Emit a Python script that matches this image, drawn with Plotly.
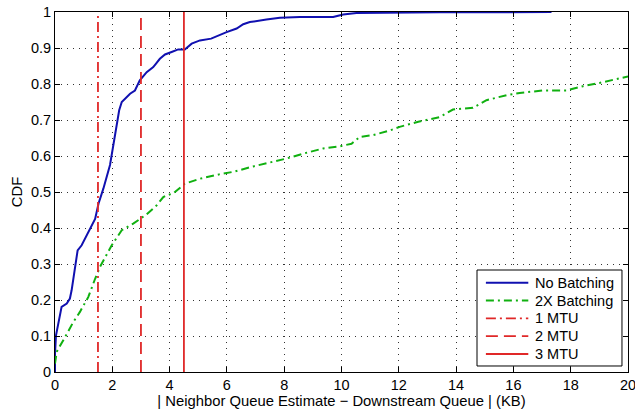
import plotly.graph_objects as go

# No Batching CDF
nb_x = [0, 0.0, 0.035, 0.12, 0.17, 0.23, 0.41, 0.52, 0.58, 0.70, 0.79, 0.93, 1.16, 1.40, 1.52, 1.69,
        1.92, 2.09, 2.24, 2.33, 2.62, 2.79, 2.96, 3.2, 3.43, 3.66, 3.84, 4.07, 4.3, 4.53, 4.77,
        5.06, 5.45, 5.99, 6.34, 6.57, 6.8, 7.38, 7.85, 8.55, 9.71, 10.06, 10.52, 13.43, 17.33]
nb_y = [0, 0.051, 0.102, 0.134, 0.162, 0.181, 0.19, 0.204, 0.227, 0.292, 0.338, 0.352, 0.389, 0.425, 0.468, 0.51,
        0.575, 0.662, 0.727, 0.75, 0.773, 0.782, 0.81, 0.833, 0.847, 0.87, 0.882, 0.889, 0.896, 0.896, 0.912,
        0.921, 0.926, 0.944, 0.954, 0.966, 0.972, 0.979, 0.984, 0.986, 0.986, 0.993, 0.997, 0.999, 1.0]

# 2X Batching CDF
b2_x = [0, 0.06, 0.35, 0.64, 0.87, 1.16, 1.40, 1.57, 1.98, 2.33, 2.73, 3.2, 3.55, 3.78, 3.9, 4.13, 4.53,
        5.06, 5.73, 6.22, 6.92, 7.5, 8.08, 8.78, 9.36, 9.94, 10.35, 10.64, 11.1, 11.69, 12.03, 12.68,
        13.2, 13.43, 13.89, 14.59, 15.06, 15.76, 16.22, 17.03, 17.85, 18.43, 19.01, 19.71, 20.0]
b2_y = [0.023, 0.056, 0.097, 0.139, 0.167, 0.208, 0.259, 0.292, 0.352, 0.394, 0.412, 0.438, 0.463, 0.486, 0.491, 0.496, 0.523,
        0.537, 0.549, 0.556, 0.571, 0.581, 0.593, 0.609, 0.621, 0.627, 0.634, 0.653, 0.658, 0.671, 0.681, 0.695,
        0.705, 0.708, 0.729, 0.734, 0.755, 0.769, 0.775, 0.782, 0.782, 0.794, 0.803, 0.815, 0.821]

mtu_names = ["1 MTU", "2 MTU", "3 MTU"]
mtu_x = [1.5, 3.0, 4.5]

BLUE = "#1010b0"
GREEN = "#10b010"
RED = "#e02828"
FONT = "Liberation Sans, Arial, sans-serif"
GREEN_DASH = "8px,4px,2px,4px"
MTU_DASH = ["10px,4px,2px,4px", "12px,6px", "solid"]

series = [
    ("No Batching", nb_x, nb_y, BLUE, "solid", 2),
    ("2X Batching", b2_x, b2_y, GREEN, GREEN_DASH, 2),
]

fig = go.Figure()
for name, xs, ys, col, dash, w in series:
    fig.add_trace(go.Scatter(x=xs, y=ys, mode="lines", name=name, showlegend=False,
                             line=dict(color=col, width=w, dash=dash)))
for n, xv, d in zip(mtu_names, mtu_x, MTU_DASH):
    fig.add_trace(go.Scatter(x=[xv, xv], y=[0, 1], mode="lines", name=n, showlegend=False,
                             line=dict(color=RED, width=1.8, dash=d)))

# legend (drawn in paper coordinates)
legend_items = [(s[0], s[3], s[4], 2) for s in series] + \
               [(n, RED, d, 1.8) for n, d in zip(mtu_names, MTU_DASH)]
shapes = [dict(type="rect", xref="paper", yref="paper", x0=0.7365, x1=0.9895, y0=0.0167, y1=0.2833,
               line=dict(color="black", width=1), fillcolor="white", layer="above")]
annotations = []
for i, (name, col, dash, w) in enumerate(legend_items):
    yy = 0.248 - i * 0.0495
    shapes.append(dict(type="line", xref="paper", yref="paper", x0=0.752, x1=0.826, y0=yy, y1=yy,
                       line=dict(color=col, width=w, dash=dash), layer="above"))
    annotations.append(dict(xref="paper", yref="paper", x=0.834, y=yy, xanchor="left", yanchor="middle",
                            text=name, showarrow=False,
                            font=dict(family=FONT, size=14.5, color="black")))

axis_common = dict(
    showline=True, linecolor="black", linewidth=1, mirror="ticks",
    ticks="inside", ticklen=5, tickcolor="black",
    showgrid=True, gridcolor="#333333", griddash="1px,5px", gridwidth=1,
    zeroline=False, automargin=False, ticklabeloverflow="allow",
    tickfont=dict(family=FONT, size=14.5, color="black"),
    title_font=dict(family=FONT, size=14.8, color="black"),
)

fig.update_layout(
    width=635, height=414,
    margin=dict(l=55, r=7, t=12, b=42),
    paper_bgcolor="white", plot_bgcolor="white",
    showlegend=False,
    shapes=shapes, annotations=annotations,
    xaxis=dict(range=[0, 20], dtick=2,
               title=dict(text="| Neighbor Queue Estimate − Downstream Queue | (KB)", standoff=2),
               **axis_common),
    yaxis=dict(range=[0, 1], dtick=0.1, title=dict(text="CDF", standoff=4), **axis_common),
)

fig.write_html("out.html", config={"displayModeBar": False},
               post_script="document.body.style.margin='0';document.body.style.overflow='hidden';")
